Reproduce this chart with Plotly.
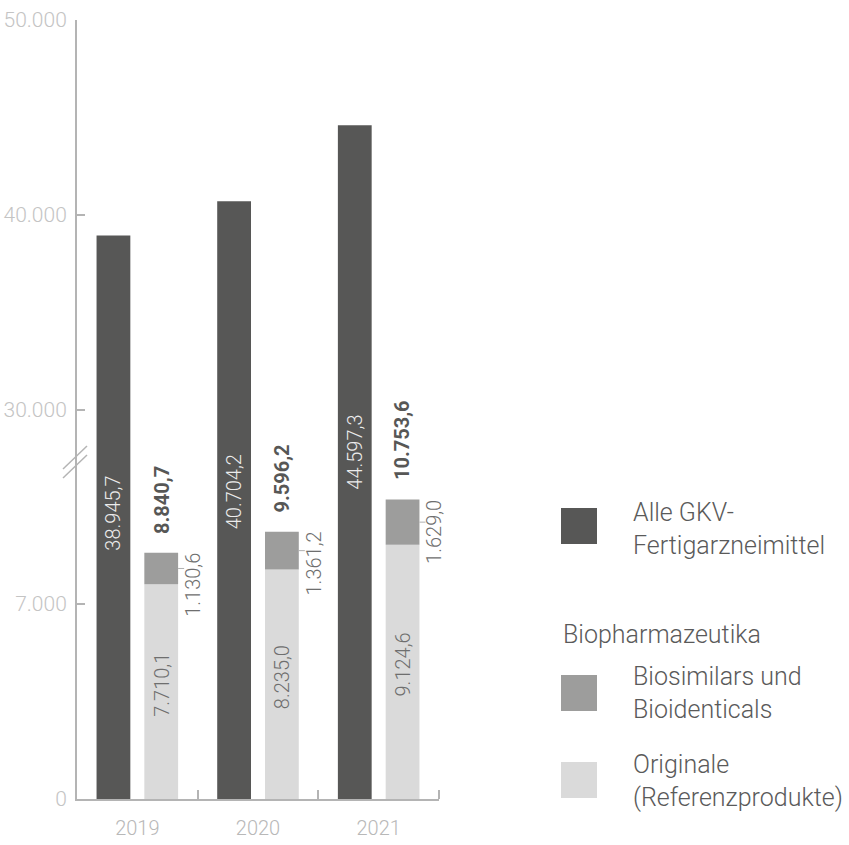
import plotly.graph_objects as go

# ---------------- data ----------------
years = ["2019", "2020", "2021"]
gkv_total = [38945.7, 40704.2, 44597.3]          # Alle GKV-Fertigarzneimittel
originale = [7710.1, 8235.0, 9124.6]             # Originale (Referenzprodukte)
biosimilars = [1130.6, 1361.2, 1629.0]           # Biosimilars und Bioidenticals
bio_total = [8840.7, 9596.2, 10753.6]            # Biopharmazeutika gesamt

lower_tickvals = [0, 7000]
lower_ticktext = ["0", "7.000"]
upper_tickvals = [30000, 40000, 50000]
upper_ticktext = ["30.000", "40.000", "50.000"]

legend_labels = ["Alle GKV-<br>Fertigarzneimittel", "Biopharmazeutika",
                 "Biosimilars und<br>Bioidenticals", "Originale<br>(Referenzprodukte)"]

# ---------------- style ----------------
DARK = "#575756"
MID = "#9d9d9c"
LIGHT = "#dadada"
AXIS = "#b4b4b4"
TICKTXT = "#c4c4c4"
FONT = "Roboto"
W, H = 849, 845
ML, MR, MT, MB = 77, 410, 20, 46
LOWER_RANGE = [0, 12170]
UPPER_RANGE = [27436, 50000]
BREAK = 0.4352          # fraction of plot height occupied by lower panel

OFF = 0.198
BW = 0.28
idx = list(range(len(years)))
dark_x = [i - OFF for i in idx]
light_x = [i + OFF for i in idx]

plot_w = W - ML - MR
plot_h = H - MT - MB


def px2x(px):
    return (px - ML) / plot_w


def px2y(py):
    return (H - MB - py) / plot_h


def de(v):
    s = f"{v:,.1f}"
    return s.replace(",", "X").replace(".", ",").replace("X", ".")


fig = go.Figure()

# dark bars in both panels (clipped by each panel)
for xa, ya in (("x", "y"), ("x2", "y2")):
    fig.add_trace(go.Bar(x=dark_x, y=gkv_total, width=BW, marker=dict(color=DARK, line=dict(width=0)),
                         xaxis=xa, yaxis=ya, hoverinfo="skip"))

fig.add_trace(go.Bar(x=light_x, y=originale, width=BW, base=[0] * len(idx),
                     marker=dict(color=LIGHT, line=dict(width=0)), xaxis="x", yaxis="y", hoverinfo="skip"))
fig.add_trace(go.Bar(x=light_x, y=biosimilars, width=BW, base=originale,
                     marker=dict(color=MID, line=dict(width=0)), xaxis="x", yaxis="y", hoverinfo="skip"))

annotations = []
shapes = []
dark_label_shift = [0, 0, 8]
for i in idx:
    # dark bar label
    annotations.append(dict(x=dark_x[i], y=bio_total[i], xref="x", yref="y", text=de(gkv_total[i]),
                            textangle=-90, showarrow=False, xanchor="center", yanchor="bottom",
                            yshift=dark_label_shift[i],
                            font=dict(family=FONT, size=20, color="#ececec", weight=300)))
    # total label (bold)
    annotations.append(dict(x=light_x[i], y=bio_total[i], xref="x", yref="y", text="<b>" + de(bio_total[i]) + "</b>",
                            textangle=-90, showarrow=False, xanchor="center", yanchor="bottom", yshift=17,
                            font=dict(family=FONT, size=20, color=DARK, weight=700)))
    # originale label
    annotations.append(dict(x=light_x[i], y=originale[i] / 2, xref="x", yref="y", text=de(originale[i]),
                            textangle=-90, showarrow=False, xanchor="center", yanchor="middle", yshift=7,
                            font=dict(family=FONT, size=20, color="#6e6e6e", weight=300)))
    # biosimilar label
    annotations.append(dict(x=light_x[i] + BW / 2, y=bio_total[i], xref="x", yref="y", text=de(biosimilars[i]),
                            textangle=-90, showarrow=False, xanchor="left", yanchor="top", xshift=1, yshift=2,
                            font=dict(family=FONT, size=20, color="#6e6e6e", weight=300)))
    # leader line
    mid_y = originale[i] + biosimilars[i] / 2
    shapes.append(dict(type="line", xref="x", yref="y", x0=light_x[i] + BW / 2, x1=light_x[i] + BW / 2 + 0.05,
                       y0=mid_y, y1=mid_y, line=dict(color="#b0b0b0", width=1)))

# axis break marks
for dy in (0, 9):
    shapes.append(dict(type="line", xref="paper", yref="paper", x0=px2x(63), x1=px2x(87),
                       y0=px2y(469 + dy), y1=px2y(446 + dy), line=dict(color=AXIS, width=1.5)))

# custom legend
legend_sq = [(508, DARK), (675, MID), (762, LIGHT)]
for top, col in legend_sq:
    shapes.append(dict(type="rect", xref="paper", yref="paper", x0=px2x(561), x1=px2x(597),
                       y0=px2y(top + 36), y1=px2y(top), fillcolor=col, line=dict(width=0)))
legend_txt = [(631, 529, legend_labels[0]), (561, 634, legend_labels[1]),
              (631, 693, legend_labels[2]), (631, 781, legend_labels[3])]
for x, y, t in legend_txt:
    annotations.append(dict(x=px2x(x), y=px2y(y), xref="paper", yref="paper", text=t, showarrow=False,
                            xanchor="left", yanchor="middle", align="left",
                            font=dict(family=FONT, size=25, color="#5a5a5a", weight=300)))

tickfont = dict(family=FONT, size=21, color=TICKTXT, weight=300)
fig.update_layout(
    template="none",
    width=W, height=H,
    margin=dict(l=ML, r=MR, t=MT, b=MB, pad=0),
    paper_bgcolor="white", plot_bgcolor="rgba(0,0,0,0)",
    showlegend=False, barmode="overlay",
    xaxis=dict(domain=[0, 1], range=[-0.5, 2.5], anchor="y", showline=True, linecolor=AXIS, linewidth=2,
               showgrid=False, zeroline=False, tickmode="array", tickvals=idx, ticktext=years, ticks="",
               tickfont=dict(family=FONT, size=20, color="#b8b8b8", weight=300), ticklabelstandoff=10,
               minor=dict(tickmode="array", tickvals=[0.5, 1.5, 2.5], ticks="inside", ticklen=9,
                          tickwidth=2, tickcolor=AXIS, showgrid=False),
               automargin=False, fixedrange=True),
    yaxis=dict(domain=[0, BREAK], range=LOWER_RANGE, anchor="x", showline=True, linecolor=AXIS, linewidth=2,
               showgrid=False, zeroline=False, tickmode="array", tickvals=lower_tickvals, ticktext=lower_ticktext,
               ticks="inside", ticklen=8, tickwidth=2, tickcolor=AXIS, tickfont=tickfont,
               ticklabelstandoff=4, automargin=False),
    xaxis2=dict(domain=[0, 1], range=[-0.5, 2.5], anchor="y2", matches="x", visible=False),
    yaxis2=dict(domain=[BREAK, 1], range=UPPER_RANGE, anchor="x2", showline=True, linecolor=AXIS, linewidth=2,
                showgrid=False, zeroline=False, tickmode="array", tickvals=upper_tickvals, ticktext=upper_ticktext,
                ticks="inside", ticklen=8, tickwidth=2, tickcolor=AXIS, tickfont=tickfont,
                ticklabelstandoff=4, automargin=False),
    annotations=annotations,
    shapes=shapes,
)

fig.write_html("out.html")
